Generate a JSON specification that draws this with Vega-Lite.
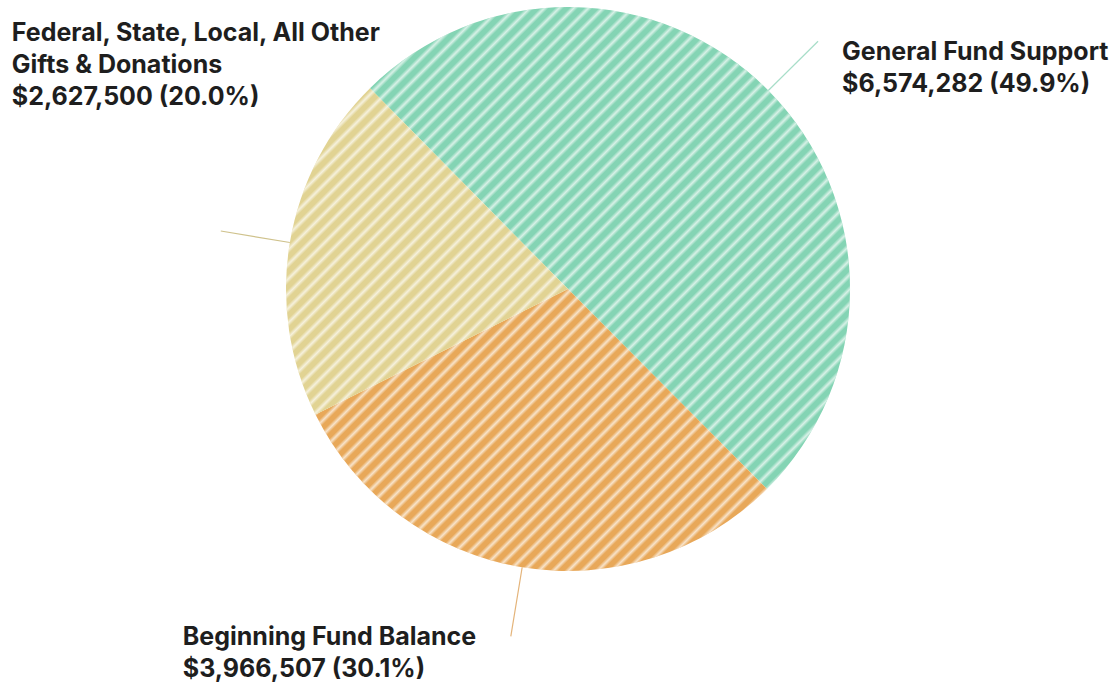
{
  "$schema": "https://vega.github.io/schema/vega-lite/v6.json",
  "width": 1098,
  "height": 578,
  "autosize": {"type": "none"},
  "padding": {"left": 19, "top": 0, "right": 0, "bottom": 107},
  "background": "white",
  "config": {"view": {"stroke": null}},
  "data": {
    "values": [
      {"name": "General Fund Support", "value": 6574282, "label": "General Fund Support\n$6,574,282 (49.9%)"},
      {"name": "Beginning Fund Balance", "value": 3966507, "label": "Beginning Fund Balance\n$3,966,507 (30.1%)"},
      {"name": "Federal, State, Local, All Other Gifts & Donations", "value": 2627500, "label": "Federal, State, Local, All Other\nGifts & Donations\n$2,627,500 (20.0%)"}
    ]
  },
  "encoding": {
    "theta": {"field": "value", "type": "quantitative", "stack": true, "scale": {"range": [-0.7784, 5.5048]}},
    "order": {"field": "value", "type": "quantitative", "sort": "descending"}
  },
  "layer": [
    {
      "mark": {"type": "arc", "radius": 282},
      "encoding": {
        "fill": {
          "field": "name", "type": "nominal", "legend": null,
          "scale": {
            "domain": ["General Fund Support", "Beginning Fund Balance", "Federal, State, Local, All Other Gifts & Donations"],
            "range": ["#84d4b4", "#e8a859", "#e1d393"]
          }
        }
      }
    },
    {
      "transform": [{"aggregate": [{"op": "sum", "field": "value", "as": "value"}]}],
      "mark": {
        "type": "arc", "radius": 282, "fillOpacity": 0.68,
        "fill": {
          "gradient": "linear", "x1": 0, "y1": 0, "x2": 1.3, "y2": 1.3,
          "stops": [
{"offset":0,"color":"rgba(255,255,255,0)"},{"offset":0.004,"color":"rgba(255,255,255,0)"},{"offset":0.007,"color":"white"},
{"offset":0.01,"color":"rgba(255,255,255,0)"},{"offset":0.014,"color":"rgba(255,255,255,0)"},{"offset":0.017,"color":"white"},
{"offset":0.02,"color":"rgba(255,255,255,0)"},{"offset":0.024,"color":"rgba(255,255,255,0)"},{"offset":0.027,"color":"white"},
{"offset":0.03,"color":"rgba(255,255,255,0)"},{"offset":0.034,"color":"rgba(255,255,255,0)"},{"offset":0.037,"color":"white"},
{"offset":0.04,"color":"rgba(255,255,255,0)"},{"offset":0.044,"color":"rgba(255,255,255,0)"},{"offset":0.047,"color":"white"},
{"offset":0.05,"color":"rgba(255,255,255,0)"},{"offset":0.054,"color":"rgba(255,255,255,0)"},{"offset":0.057,"color":"white"},
{"offset":0.06,"color":"rgba(255,255,255,0)"},{"offset":0.064,"color":"rgba(255,255,255,0)"},{"offset":0.067,"color":"white"},
{"offset":0.07,"color":"rgba(255,255,255,0)"},{"offset":0.074,"color":"rgba(255,255,255,0)"},{"offset":0.077,"color":"white"},
{"offset":0.08,"color":"rgba(255,255,255,0)"},{"offset":0.084,"color":"rgba(255,255,255,0)"},{"offset":0.087,"color":"white"},
{"offset":0.09,"color":"rgba(255,255,255,0)"},{"offset":0.094,"color":"rgba(255,255,255,0)"},{"offset":0.097,"color":"white"},
{"offset":0.1,"color":"rgba(255,255,255,0)"},{"offset":0.104,"color":"rgba(255,255,255,0)"},{"offset":0.107,"color":"white"},
{"offset":0.11,"color":"rgba(255,255,255,0)"},{"offset":0.114,"color":"rgba(255,255,255,0)"},{"offset":0.117,"color":"white"},
{"offset":0.12,"color":"rgba(255,255,255,0)"},{"offset":0.124,"color":"rgba(255,255,255,0)"},{"offset":0.127,"color":"white"},
{"offset":0.13,"color":"rgba(255,255,255,0)"},{"offset":0.134,"color":"rgba(255,255,255,0)"},{"offset":0.137,"color":"white"},
{"offset":0.14,"color":"rgba(255,255,255,0)"},{"offset":0.144,"color":"rgba(255,255,255,0)"},{"offset":0.147,"color":"white"},
{"offset":0.15,"color":"rgba(255,255,255,0)"},{"offset":0.154,"color":"rgba(255,255,255,0)"},{"offset":0.157,"color":"white"},
{"offset":0.16,"color":"rgba(255,255,255,0)"},{"offset":0.164,"color":"rgba(255,255,255,0)"},{"offset":0.167,"color":"white"},
{"offset":0.17,"color":"rgba(255,255,255,0)"},{"offset":0.174,"color":"rgba(255,255,255,0)"},{"offset":0.177,"color":"white"},
{"offset":0.18,"color":"rgba(255,255,255,0)"},{"offset":0.184,"color":"rgba(255,255,255,0)"},{"offset":0.187,"color":"white"},
{"offset":0.19,"color":"rgba(255,255,255,0)"},{"offset":0.194,"color":"rgba(255,255,255,0)"},{"offset":0.197,"color":"white"},
{"offset":0.2,"color":"rgba(255,255,255,0)"},{"offset":0.204,"color":"rgba(255,255,255,0)"},{"offset":0.207,"color":"white"},
{"offset":0.21,"color":"rgba(255,255,255,0)"},{"offset":0.214,"color":"rgba(255,255,255,0)"},{"offset":0.217,"color":"white"},
{"offset":0.22,"color":"rgba(255,255,255,0)"},{"offset":0.224,"color":"rgba(255,255,255,0)"},{"offset":0.227,"color":"white"},
{"offset":0.23,"color":"rgba(255,255,255,0)"},{"offset":0.234,"color":"rgba(255,255,255,0)"},{"offset":0.237,"color":"white"},
{"offset":0.24,"color":"rgba(255,255,255,0)"},{"offset":0.244,"color":"rgba(255,255,255,0)"},{"offset":0.247,"color":"white"},
{"offset":0.25,"color":"rgba(255,255,255,0)"},{"offset":0.254,"color":"rgba(255,255,255,0)"},{"offset":0.257,"color":"white"},
{"offset":0.26,"color":"rgba(255,255,255,0)"},{"offset":0.264,"color":"rgba(255,255,255,0)"},{"offset":0.267,"color":"white"},
{"offset":0.27,"color":"rgba(255,255,255,0)"},{"offset":0.274,"color":"rgba(255,255,255,0)"},{"offset":0.277,"color":"white"},
{"offset":0.28,"color":"rgba(255,255,255,0)"},{"offset":0.284,"color":"rgba(255,255,255,0)"},{"offset":0.287,"color":"white"},
{"offset":0.29,"color":"rgba(255,255,255,0)"},{"offset":0.294,"color":"rgba(255,255,255,0)"},{"offset":0.297,"color":"white"},
{"offset":0.3,"color":"rgba(255,255,255,0)"},{"offset":0.304,"color":"rgba(255,255,255,0)"},{"offset":0.307,"color":"white"},
{"offset":0.31,"color":"rgba(255,255,255,0)"},{"offset":0.314,"color":"rgba(255,255,255,0)"},{"offset":0.317,"color":"white"},
{"offset":0.32,"color":"rgba(255,255,255,0)"},{"offset":0.324,"color":"rgba(255,255,255,0)"},{"offset":0.327,"color":"white"},
{"offset":0.33,"color":"rgba(255,255,255,0)"},{"offset":0.334,"color":"rgba(255,255,255,0)"},{"offset":0.337,"color":"white"},
{"offset":0.34,"color":"rgba(255,255,255,0)"},{"offset":0.344,"color":"rgba(255,255,255,0)"},{"offset":0.347,"color":"white"},
{"offset":0.35,"color":"rgba(255,255,255,0)"},{"offset":0.354,"color":"rgba(255,255,255,0)"},{"offset":0.357,"color":"white"},
{"offset":0.36,"color":"rgba(255,255,255,0)"},{"offset":0.364,"color":"rgba(255,255,255,0)"},{"offset":0.367,"color":"white"},
{"offset":0.37,"color":"rgba(255,255,255,0)"},{"offset":0.374,"color":"rgba(255,255,255,0)"},{"offset":0.377,"color":"white"},
{"offset":0.38,"color":"rgba(255,255,255,0)"},{"offset":0.384,"color":"rgba(255,255,255,0)"},{"offset":0.387,"color":"white"},
{"offset":0.39,"color":"rgba(255,255,255,0)"},{"offset":0.394,"color":"rgba(255,255,255,0)"},{"offset":0.397,"color":"white"},
{"offset":0.4,"color":"rgba(255,255,255,0)"},{"offset":0.404,"color":"rgba(255,255,255,0)"},{"offset":0.407,"color":"white"},
{"offset":0.41,"color":"rgba(255,255,255,0)"},{"offset":0.414,"color":"rgba(255,255,255,0)"},{"offset":0.417,"color":"white"},
{"offset":0.42,"color":"rgba(255,255,255,0)"},{"offset":0.424,"color":"rgba(255,255,255,0)"},{"offset":0.427,"color":"white"},
{"offset":0.43,"color":"rgba(255,255,255,0)"},{"offset":0.434,"color":"rgba(255,255,255,0)"},{"offset":0.437,"color":"white"},
{"offset":0.44,"color":"rgba(255,255,255,0)"},{"offset":0.444,"color":"rgba(255,255,255,0)"},{"offset":0.447,"color":"white"},
{"offset":0.45,"color":"rgba(255,255,255,0)"},{"offset":0.454,"color":"rgba(255,255,255,0)"},{"offset":0.457,"color":"white"},
{"offset":0.46,"color":"rgba(255,255,255,0)"},{"offset":0.464,"color":"rgba(255,255,255,0)"},{"offset":0.467,"color":"white"},
{"offset":0.47,"color":"rgba(255,255,255,0)"},{"offset":0.474,"color":"rgba(255,255,255,0)"},{"offset":0.477,"color":"white"},
{"offset":0.48,"color":"rgba(255,255,255,0)"},{"offset":0.484,"color":"rgba(255,255,255,0)"},{"offset":0.487,"color":"white"},
{"offset":0.49,"color":"rgba(255,255,255,0)"},{"offset":0.494,"color":"rgba(255,255,255,0)"},{"offset":0.497,"color":"white"},
{"offset":0.5,"color":"rgba(255,255,255,0)"},{"offset":0.504,"color":"rgba(255,255,255,0)"},{"offset":0.507,"color":"white"},
{"offset":0.51,"color":"rgba(255,255,255,0)"},{"offset":0.514,"color":"rgba(255,255,255,0)"},{"offset":0.517,"color":"white"},
{"offset":0.52,"color":"rgba(255,255,255,0)"},{"offset":0.524,"color":"rgba(255,255,255,0)"},{"offset":0.527,"color":"white"},
{"offset":0.53,"color":"rgba(255,255,255,0)"},{"offset":0.534,"color":"rgba(255,255,255,0)"},{"offset":0.537,"color":"white"},
{"offset":0.54,"color":"rgba(255,255,255,0)"},{"offset":0.544,"color":"rgba(255,255,255,0)"},{"offset":0.547,"color":"white"},
{"offset":0.55,"color":"rgba(255,255,255,0)"},{"offset":0.554,"color":"rgba(255,255,255,0)"},{"offset":0.557,"color":"white"},
{"offset":0.56,"color":"rgba(255,255,255,0)"},{"offset":0.564,"color":"rgba(255,255,255,0)"},{"offset":0.567,"color":"white"},
{"offset":0.57,"color":"rgba(255,255,255,0)"},{"offset":0.574,"color":"rgba(255,255,255,0)"},{"offset":0.577,"color":"white"},
{"offset":0.58,"color":"rgba(255,255,255,0)"},{"offset":0.584,"color":"rgba(255,255,255,0)"},{"offset":0.587,"color":"white"},
{"offset":0.59,"color":"rgba(255,255,255,0)"},{"offset":0.594,"color":"rgba(255,255,255,0)"},{"offset":0.597,"color":"white"},
{"offset":0.6,"color":"rgba(255,255,255,0)"},{"offset":0.604,"color":"rgba(255,255,255,0)"},{"offset":0.607,"color":"white"},
{"offset":0.61,"color":"rgba(255,255,255,0)"},{"offset":0.614,"color":"rgba(255,255,255,0)"},{"offset":0.617,"color":"white"},
{"offset":0.62,"color":"rgba(255,255,255,0)"},{"offset":0.624,"color":"rgba(255,255,255,0)"},{"offset":0.627,"color":"white"},
{"offset":0.63,"color":"rgba(255,255,255,0)"},{"offset":0.634,"color":"rgba(255,255,255,0)"},{"offset":0.637,"color":"white"},
{"offset":0.64,"color":"rgba(255,255,255,0)"},{"offset":0.644,"color":"rgba(255,255,255,0)"},{"offset":0.647,"color":"white"},
{"offset":0.65,"color":"rgba(255,255,255,0)"},{"offset":0.654,"color":"rgba(255,255,255,0)"},{"offset":0.657,"color":"white"},
{"offset":0.66,"color":"rgba(255,255,255,0)"},{"offset":0.664,"color":"rgba(255,255,255,0)"},{"offset":0.667,"color":"white"},
{"offset":0.67,"color":"rgba(255,255,255,0)"},{"offset":0.674,"color":"rgba(255,255,255,0)"},{"offset":0.677,"color":"white"},
{"offset":0.68,"color":"rgba(255,255,255,0)"},{"offset":0.684,"color":"rgba(255,255,255,0)"},{"offset":0.687,"color":"white"},
{"offset":0.69,"color":"rgba(255,255,255,0)"},{"offset":0.694,"color":"rgba(255,255,255,0)"},{"offset":0.697,"color":"white"},
{"offset":0.7,"color":"rgba(255,255,255,0)"},{"offset":0.704,"color":"rgba(255,255,255,0)"},{"offset":0.707,"color":"white"},
{"offset":0.71,"color":"rgba(255,255,255,0)"},{"offset":0.714,"color":"rgba(255,255,255,0)"},{"offset":0.717,"color":"white"},
{"offset":0.72,"color":"rgba(255,255,255,0)"},{"offset":0.724,"color":"rgba(255,255,255,0)"},{"offset":0.727,"color":"white"},
{"offset":0.73,"color":"rgba(255,255,255,0)"},{"offset":0.734,"color":"rgba(255,255,255,0)"},{"offset":0.737,"color":"white"},
{"offset":0.74,"color":"rgba(255,255,255,0)"},{"offset":0.744,"color":"rgba(255,255,255,0)"},{"offset":0.747,"color":"white"},
{"offset":0.75,"color":"rgba(255,255,255,0)"},{"offset":0.754,"color":"rgba(255,255,255,0)"},{"offset":0.757,"color":"white"},
{"offset":0.76,"color":"rgba(255,255,255,0)"},{"offset":0.764,"color":"rgba(255,255,255,0)"},{"offset":0.767,"color":"white"},
{"offset":0.77,"color":"rgba(255,255,255,0)"},{"offset":0.774,"color":"rgba(255,255,255,0)"},{"offset":0.777,"color":"white"},
{"offset":0.78,"color":"rgba(255,255,255,0)"},{"offset":1,"color":"rgba(255,255,255,0)"}
          ]
        }
      }
    },
    {
      "mark": {"type": "arc", "radius": 352, "radius2": 282, "padAngle": 2, "fillOpacity": 0, "strokeWidth": 1.2},
      "encoding": {
        "stroke": {
          "field": "name", "type": "nominal", "legend": null,
          "scale": {
            "domain": ["General Fund Support", "Beginning Fund Balance", "Federal, State, Local, All Other Gifts & Donations"],
            "range": ["#a8dec9", "#e4b47a", "#cfc28c"]
          }
        }
      }
    },
    {
      "mark": {"type": "text", "radius": 352, "align": "left", "baseline": "alphabetic", "dx": 24, "dy": 19, "lineBreak": "\n", "lineHeight": 32, "font": "Inter", "fontSize": 25, "fontWeight": 700, "fill": "#1e1e1e"},
      "encoding": {"text": {"condition": {"test": "datum.name === 'General Fund Support'", "field": "label", "type": "nominal"}, "value": ""}}
    },
    {
      "mark": {"type": "text", "radius": 352, "align": "left", "baseline": "alphabetic", "dx": -328, "dy": 9, "lineBreak": "\n", "lineHeight": 32, "font": "Inter", "fontSize": 25, "fontWeight": 700, "fill": "#1e1e1e"},
      "encoding": {"text": {"condition": {"test": "datum.name === 'Beginning Fund Balance'", "field": "label", "type": "nominal"}, "value": ""}}
    },
    {
      "mark": {"type": "text", "radius": 352, "align": "left", "baseline": "alphabetic", "dx": -209, "dy": -190, "lineBreak": "\n", "lineHeight": 32, "font": "Inter", "fontSize": 25, "fontWeight": 700, "fill": "#1e1e1e"},
      "encoding": {"text": {"condition": {"test": "datum.name === 'Federal, State, Local, All Other Gifts & Donations'", "field": "label", "type": "nominal"}, "value": ""}}
    }
  ]
}
